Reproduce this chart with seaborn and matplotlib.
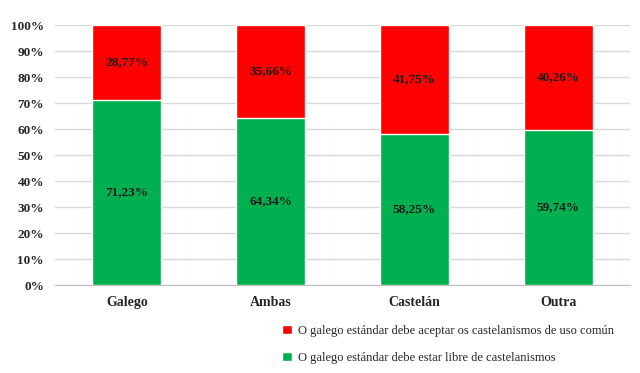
import matplotlib.pyplot as plt
import seaborn as sns
import pandas as pd
from matplotlib.patches import Patch
from matplotlib.ticker import PercentFormatter

categories = ['Galego', 'Ambas', 'Castelán', 'Outra']
libre = [71.23, 64.34, 58.25, 59.74]
aceptar = [28.77, 35.66, 41.75, 40.26]

label_aceptar = 'O galego estándar debe aceptar os castelanismos de uso común'
label_libre = 'O galego estándar debe estar libre de castelanismos'

RED = '#FF0000'
GREEN = '#00B050'


def fmt(v):
    return '{:.2f}%'.format(v).replace('.', ',')


def main():
    sns.set_style('white')
    plt.rcParams['font.family'] = ['Liberation Serif', 'DejaVu Serif']

    df = pd.DataFrame({'cat': categories, 'libre': libre,
                       'total': [a + b for a, b in zip(libre, aceptar)]})

    fig = plt.figure(figsize=(6.4, 3.73), dpi=100)
    ax = fig.add_axes([55 / 640, 1 - 285 / 373, 575 / 640, 260 / 373])

    sns.barplot(data=df, x='cat', y='total', color=RED, saturation=1,
                width=0.48, edgecolor='white', linewidth=1, ax=ax, zorder=3)
    sns.barplot(data=df, x='cat', y='libre', color=GREEN, saturation=1,
                width=0.48, edgecolor='white', linewidth=1, ax=ax, zorder=3)

    for i, (g, r) in enumerate(zip(libre, aceptar)):
        ax.text(i, g / 2, fmt(g), ha='center', va='center', fontsize=9.5,
                fontweight='bold', color='#1a1a1a', zorder=4)
        ax.text(i, g + r / 2, fmt(r), ha='center', va='center', fontsize=9.5,
                fontweight='bold', color='#1a1a1a', zorder=4)

    ax.set_ylim(0, 100)
    ax.set_xlim(-0.5, 3.5)
    ax.set_yticks(range(0, 101, 10))
    ax.yaxis.set_major_formatter(PercentFormatter(decimals=0))
    ax.grid(axis='y', color='#d9d9d9', linewidth=1, zorder=0)
    ax.set_xlabel('')
    ax.set_ylabel('')
    for side in ['top', 'right', 'left']:
        ax.spines[side].set_visible(False)
    ax.spines['bottom'].set_color('#bfbfbf')
    ax.tick_params(axis='y', length=0, pad=8, labelsize=9.5)
    ax.tick_params(axis='x', length=0, pad=8, labelsize=10)
    for lbl in ax.get_xticklabels() + ax.get_yticklabels():
        lbl.set_fontweight('bold')

    handles = [Patch(facecolor=RED, label=label_aceptar),
               Patch(facecolor=GREEN, label=label_libre)]
    fig.legend(handles=handles, loc='upper left', bbox_to_anchor=(271 / 640, 1 - 314 / 373),
               frameon=False, fontsize=9, handlelength=0.75, handleheight=0.75,
               handletextpad=0.5, labelspacing=1.2)

    plt.savefig('out.png', dpi=100)


if __name__ == '__main__':
    main()
